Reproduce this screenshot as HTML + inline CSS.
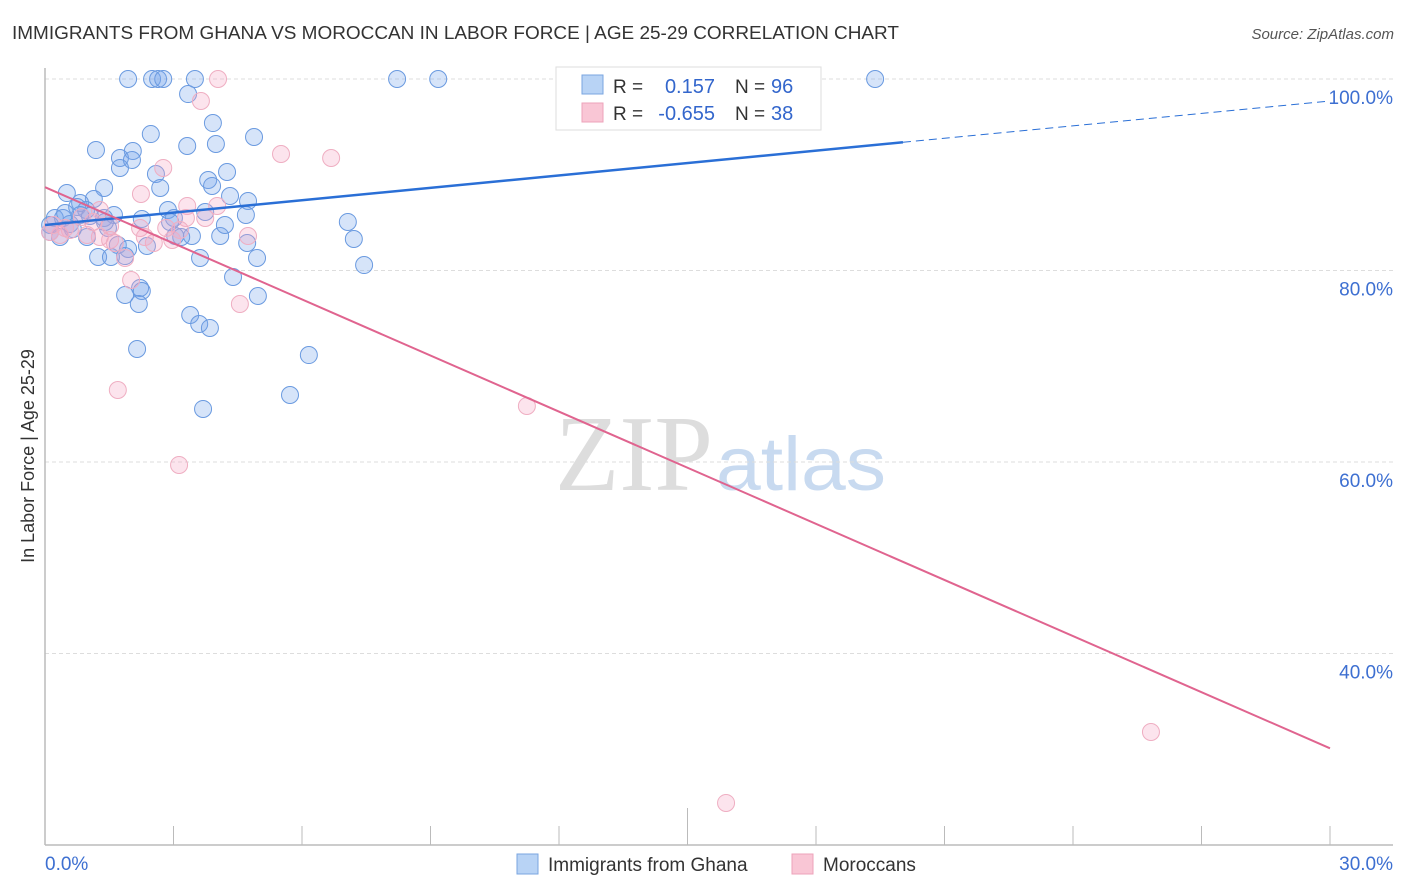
<!DOCTYPE html>
<html><head><meta charset="utf-8"><style>
body{margin:0;background:#fff;font-family:"Liberation Sans",sans-serif;}
svg{display:block}
</style></head><body>
<svg id="chart" width="1406" height="892" viewBox="0 0 1406 892" xmlns="http://www.w3.org/2000/svg">
<text x="12" y="39" font-size="18" textLength="887" lengthAdjust="spacingAndGlyphs" fill="#333">IMMIGRANTS FROM GHANA VS MOROCCAN IN LABOR FORCE | AGE 25-29 CORRELATION CHART</text>
<text x="1394" y="39" font-size="15" fill="#555" font-style="italic" text-anchor="end">Source: ZipAtlas.com</text>
<g>
<text x="555" y="490" font-family="Liberation Serif,serif" font-size="108" fill="#ddd" textLength="158" lengthAdjust="spacingAndGlyphs">ZIP</text>
<text x="716" y="490" font-size="76" fill="#c8daf0" textLength="170" lengthAdjust="spacingAndGlyphs">atlas</text>
</g>
<g id="grid"></g>
<g id="axes"></g>
<g id="pts"></g>
<g id="trends"></g>
<text transform="translate(34,456) rotate(-90)" font-size="18" fill="#333" text-anchor="middle">In Labor Force | Age 25-29</text>
<g>
<rect x="556" y="67" width="265" height="63" fill="#fff" stroke="#ddd"/>
<rect x="582" y="75" width="21" height="19" fill="#b8d3f5" stroke="#7aa6e0"/>
<rect x="582" y="103" width="21" height="19" fill="#f9c6d5" stroke="#eda3ba"/>
<text x="613" y="93" font-size="19" fill="#333">R =</text>
<text x="715" y="93" font-size="20" fill="#3366cc" text-anchor="end">0.157</text>
<text x="735" y="93" font-size="19" fill="#333">N =</text>
<text x="771" y="93" font-size="20" fill="#3366cc">96</text>
<text x="613" y="120" font-size="19" fill="#333">R =</text>
<text x="715" y="120" font-size="20" fill="#3366cc" text-anchor="end">-0.655</text>
<text x="735" y="120" font-size="19" fill="#333">N =</text>
<text x="771" y="120" font-size="20" fill="#3366cc">38</text>
</g>
<g>
<rect x="517" y="854" width="21" height="20" fill="#b8d3f5" stroke="#7aa6e0"/>
<text x="548" y="871" font-size="19" fill="#333">Immigrants from Ghana</text>
<rect x="792" y="854" width="21" height="20" fill="#f9c6d5" stroke="#eda3ba"/>
<text x="823" y="871" font-size="19" fill="#333">Moroccans</text>
</g>
</svg>
<script>
const xTicks=[0,30];
const yTicks=[40,60,80,100];
const ghanaX=[1.94,2.50,2.64,2.76,3.50,8.22,9.18,19.38,3.34,3.92,2.47,4.88,1.19,3.32,3.99,2.05,1.75,2.03,1.75,2.59,4.25,3.81,3.90,2.69,1.38,4.32,4.74,0.51,1.14,0.82,2.87,3.74,0.75,0.96,4.69,7.07,2.26,3.01,2.92,1.61,1.05,1.38,0.23,0.42,0.12,0.58,1.47,3.43,4.09,3.18,3.04,4.72,7.21,0.98,0.35,0.12,1.70,1.94,2.38,1.24,1.54,1.87,3.62,4.95,7.45,4.39,2.22,2.26,1.87,4.97,2.19,3.39,3.60,3.85,2.15,6.16,5.72,3.69,4.20,1.40,0.82,0.47,0.65];
const ghanaY=[100,100,100,100,100,100,100,100,98.43,95.4,94.25,93.94,92.58,93.0,93.21,92.48,91.75,91.54,90.71,90.08,90.29,89.45,88.83,88.62,88.62,87.78,87.26,88.09,87.47,87.05,86.32,86.11,86.63,86.32,85.80,85.07,85.38,85.48,85.07,85.80,85.69,85.48,85.48,85.48,84.75,84.86,84.44,83.60,83.60,83.50,83.60,82.87,83.29,83.50,83.50,84.02,82.66,82.25,82.56,81.41,81.41,81.51,81.31,81.31,80.57,79.32,78.17,77.86,77.44,77.34,76.50,75.35,74.41,74.0,71.80,71.17,67.0,65.54,84.75,85.07,85.80,86.0,84.33];
const morX=[4.04,3.64,5.51,6.68,2.76,2.24,4.02,3.32,3.74,3.29,1.28,1.52,2.22,2.83,4.74,2.97,2.54,1.28,1.52,0.98,0.35,0.12,0.58,1.87,2.01,4.55,1.70,11.25,3.13,25.82,15.90,0.19,0.47,0.86,1.63,1.12,2.33,3.15];
const morY=[100,97.70,92.17,91.75,90.71,87.99,86.74,86.74,85.48,85.48,86.32,84.65,84.44,84.44,83.60,83.19,82.87,83.50,83.19,83.71,83.71,84.02,84.23,81.31,79.01,76.50,67.52,65.85,59.69,31.80,24.39,84.75,84.44,85.59,82.87,85.07,83.50,84.23];
const ghanaTrend=[84.75,97.7];
const ghanaSolidEnd=20.03;
const morTrend=[88.7,30.1];

const NS="http://www.w3.org/2000/svg";
const sx=v=>45+v*(1285/30);
const sy=v=>79+(100-v)*9.575;
function mk(tag,attrs,parent){const e=document.createElementNS(NS,tag);for(const k in attrs)e.setAttribute(k,attrs[k]);parent.appendChild(e);return e;}
const grid=document.getElementById('grid'),axes=document.getElementById('axes'),pts=document.getElementById('pts'),tr=document.getElementById('trends');
yTicks.forEach(t=>{
  const l=mk('line',{x1:45,x2:1393,y1:sy(t),y2:sy(t),stroke:'#ddd','stroke-dasharray':'4,3'},grid);
  
  
  const tx=mk('text',{x:1393,y:sy(t)+25,'font-size':19,fill:'#3d6fd1','text-anchor':'end'},axes);
  tx.textContent=t.toFixed(1)+'%';
  
  
});
mk('line',{x1:45,x2:45,y1:68,y2:845,stroke:'#bbb','stroke-width':1.5},axes);
mk('line',{x1:45,x2:1393,y1:845,y2:845,stroke:'#bbb','stroke-width':1.5},axes);
for(let i=1;i<=10;i++){
  const v=i*3;
  const t=mk('line',{x1:sx(v),x2:sx(v),y1:i==5?808:826,y2:845,stroke:'#bbb'},axes);
  
  
}
xTicks.forEach((t,i)=>{
  const tx=mk('text',{x:i==0?45:1393,y:870,'font-size':19,fill:'#3d6fd1','text-anchor':i==0?'start':'end'},axes);
  tx.textContent=t.toFixed(1)+'%';
  
  
});
ghanaX.forEach((x,i)=>{
  const c=mk('circle',{cx:sx(x),cy:sy(ghanaY[i]),r:8.5,fill:'rgba(120,165,235,0.3)',stroke:'#6a9ae0','stroke-width':1},pts);
  
  
});
morX.forEach((x,i)=>{
  const c=mk('circle',{cx:sx(x),cy:sy(morY[i]),r:8.5,fill:'rgba(245,165,195,0.3)',stroke:'#efaec2','stroke-width':1},pts);
  
  
});
const gy=x=>ghanaTrend[0]+(ghanaTrend[1]-ghanaTrend[0])*x/30;
const l1=mk('line',{x1:sx(0),y1:sy(gy(0)),x2:sx(ghanaSolidEnd),y2:sy(gy(ghanaSolidEnd)),stroke:'#2a6fd6','stroke-width':2.5},tr);


const l2=mk('line',{x1:sx(ghanaSolidEnd),y1:sy(gy(ghanaSolidEnd)),x2:sx(30),y2:sy(gy(30)),stroke:'#2a6fd6','stroke-width':1,'stroke-dasharray':'8,5'},tr);


const l3=mk('line',{x1:sx(0),y1:sy(morTrend[0]),x2:sx(30),y2:sy(morTrend[1]),stroke:'#e0648f','stroke-width':2},tr);


</script>
</body></html>
